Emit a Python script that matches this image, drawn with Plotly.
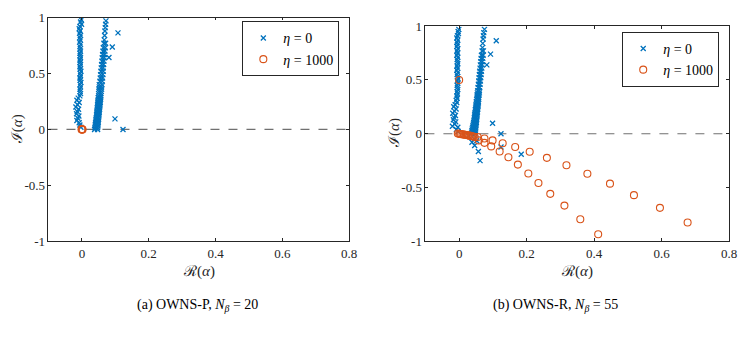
import plotly.graph_objects as go

# ---------------- data ----------------
# Panel (a) OWNS-P, eta = 0 : left branch
a_blue_left_x = [-0.002, -0.004, -0.001, -0.006, -0.008, -0.005, -0.007, -0.004, -0.006, -0.005,
                 -0.007, -0.004, -0.006, -0.005, -0.004, -0.006, -0.005, -0.004, -0.006, -0.005,
                 -0.004, -0.006, -0.005, -0.003, -0.005, -0.004, -0.006, -0.005, -0.003, -0.005,
                 -0.004, -0.006, -0.005, -0.004, -0.006, -0.011, -0.015, -0.008, -0.013, -0.018,
                 -0.010, -0.014, -0.016, -0.009, -0.012, -0.015, -0.008, -0.006, -0.003]
a_blue_left_y = [0.98, 0.96, 0.94, 0.92, 0.90, 0.88, 0.86, 0.84, 0.82, 0.80,
                 0.78, 0.76, 0.74, 0.72, 0.70, 0.68, 0.66, 0.64, 0.62, 0.60,
                 0.58, 0.56, 0.54, 0.52, 0.50, 0.48, 0.46, 0.44, 0.42, 0.40,
                 0.38, 0.36, 0.34, 0.32, 0.30, 0.28, 0.26, 0.24, 0.22, 0.20,
                 0.18, 0.16, 0.14, 0.12, 0.10, 0.08, 0.06, 0.04, 0.02]
# right branch
a_blue_right_x = [0.038, 0.047, 0.039, 0.047, 0.040, 0.048, 0.040, 0.048, 0.041, 0.049,
                  0.042, 0.049, 0.042, 0.050, 0.043, 0.050, 0.044, 0.051, 0.044, 0.051,
                  0.045, 0.052, 0.045, 0.052, 0.046, 0.053, 0.046, 0.053, 0.047, 0.054,
                  0.047, 0.054, 0.048, 0.055, 0.048, 0.055, 0.049, 0.056, 0.049, 0.056,
                  0.050, 0.057, 0.050, 0.057, 0.051, 0.058, 0.051, 0.059, 0.052, 0.059,
                  0.052, 0.060, 0.054, 0.061, 0.055, 0.062, 0.056, 0.063, 0.057, 0.064,
                  0.058, 0.064, 0.059, 0.065, 0.060, 0.066, 0.061, 0.067, 0.062, 0.068,
                  0.063, 0.069, 0.064, 0.070, 0.066, 0.071, 0.067, 0.068, 0.069, 0.070,
                  0.071, 0.072,
                  0.108, 0.091, 0.081, 0.099, 0.123]
a_blue_right_y = [0.000, 0.000, 0.015, 0.015, 0.030, 0.030, 0.045, 0.045, 0.060, 0.060,
                  0.075, 0.075, 0.090, 0.090, 0.105, 0.105, 0.120, 0.120, 0.135, 0.135,
                  0.150, 0.150, 0.165, 0.165, 0.180, 0.180, 0.195, 0.195, 0.210, 0.210,
                  0.225, 0.225, 0.240, 0.240, 0.255, 0.255, 0.270, 0.270, 0.285, 0.285,
                  0.300, 0.300, 0.320, 0.320, 0.340, 0.340, 0.360, 0.360, 0.380, 0.380,
                  0.400, 0.400, 0.430, 0.430, 0.460, 0.460, 0.490, 0.490, 0.520, 0.520,
                  0.550, 0.550, 0.580, 0.580, 0.610, 0.610, 0.640, 0.640, 0.670, 0.670,
                  0.700, 0.700, 0.730, 0.730, 0.770, 0.770, 0.800, 0.840, 0.880, 0.910,
                  0.940, 0.970,
                  0.863, 0.737, 0.643, 0.094, 0.000]
# Panel (a), eta = 1000
a_orange_x = [0.000, 0.001, -0.001, 0.002, 0.0005]
a_orange_y = [0.000, 0.000, 0.000, -0.001, 0.001]

# Panel (b) OWNS-R, eta = 0 : left branch
b_blue_left_x = [-0.001, -0.003, -0.002, -0.005, -0.007, -0.004, -0.006, -0.005, -0.007, -0.004,
                 -0.006, -0.005, -0.007, -0.004, -0.006, -0.005, -0.004, -0.006, -0.005, -0.007,
                 -0.004, -0.006, -0.005, -0.003, -0.005, -0.004, -0.006, -0.005, -0.004, -0.006,
                 -0.005, -0.007, -0.006, -0.009, -0.007, -0.012, -0.016, -0.009, -0.014, -0.019,
                 -0.011, -0.015, -0.017, -0.010, -0.013, -0.020, -0.004, -0.008, -0.003]
b_blue_left_y = [0.97, 0.95, 0.93, 0.91, 0.89, 0.87, 0.85, 0.83, 0.81, 0.79,
                 0.77, 0.75, 0.73, 0.71, 0.69, 0.67, 0.65, 0.63, 0.61, 0.59,
                 0.57, 0.55, 0.53, 0.51, 0.49, 0.47, 0.45, 0.43, 0.41, 0.39,
                 0.37, 0.35, 0.33, 0.31, 0.29, 0.27, 0.25, 0.23, 0.21, 0.19,
                 0.17, 0.15, 0.13, 0.11, 0.09, 0.07, 0.06, 0.04, 0.02]
# right branch and scattered points
b_blue_right_x = [0.036, 0.047, 0.037, 0.048, 0.038, 0.048, 0.039, 0.049, 0.040, 0.049,
                  0.041, 0.050, 0.042, 0.050, 0.043, 0.051, 0.044, 0.051, 0.045, 0.052,
                  0.045, 0.052, 0.046, 0.053, 0.046, 0.053, 0.047, 0.054, 0.048, 0.054,
                  0.048, 0.055, 0.049, 0.055, 0.050, 0.056, 0.050, 0.056, 0.051, 0.057,
                  0.051, 0.057, 0.052, 0.058, 0.053, 0.058, 0.053, 0.059, 0.054, 0.060,
                  0.055, 0.060, 0.056, 0.061, 0.057, 0.062, 0.058, 0.063, 0.059, 0.064,
                  0.060, 0.065, 0.061, 0.066, 0.062, 0.067, 0.063, 0.068, 0.064, 0.069,
                  0.065, 0.070, 0.066, 0.071, 0.068, 0.072, 0.069, 0.070, 0.071, 0.072,
                  0.073, 0.075,
                  0.110, 0.093, 0.082, 0.099, 0.124,
                  0.028, 0.045, 0.038, 0.046, 0.057, 0.062, 0.124, 0.184, 0.052]
b_blue_right_y = [0.000, 0.000, 0.015, 0.015, 0.030, 0.030, 0.045, 0.045, 0.060, 0.060,
                  0.075, 0.075, 0.090, 0.090, 0.105, 0.105, 0.120, 0.120, 0.135, 0.135,
                  0.150, 0.150, 0.165, 0.165, 0.180, 0.180, 0.195, 0.195, 0.210, 0.210,
                  0.225, 0.225, 0.240, 0.240, 0.255, 0.255, 0.270, 0.270, 0.285, 0.285,
                  0.300, 0.300, 0.320, 0.320, 0.340, 0.340, 0.360, 0.360, 0.380, 0.380,
                  0.400, 0.400, 0.430, 0.430, 0.460, 0.460, 0.490, 0.490, 0.520, 0.520,
                  0.550, 0.550, 0.580, 0.580, 0.610, 0.610, 0.640, 0.640, 0.670, 0.670,
                  0.700, 0.700, 0.730, 0.730, 0.770, 0.770, 0.800, 0.840, 0.880, 0.910,
                  0.940, 0.970,
                  0.864, 0.740, 0.640, 0.098, 0.000,
                  -0.020, -0.050, -0.080, -0.110, -0.165, -0.250, -0.124, -0.190, -0.065]
# Panel (b), eta = 1000
b_orange_x = [-0.004, 0.000, 0.003, 0.006, 0.010, 0.014, 0.018, 0.022, 0.026, 0.030,
              0.034, 0.038, 0.042, 0.046, 0.000,
              0.055, 0.075, 0.099, 0.129, 0.166, 0.209, 0.260, 0.318, 0.380, 0.447,
              0.518, 0.595, 0.677,
              0.058, 0.075, 0.095, 0.120, 0.146, 0.174, 0.205, 0.235, 0.270, 0.312,
              0.359, 0.412]
b_orange_y = [0.002, 0.000, -0.002, -0.004, -0.006, -0.008, -0.010, -0.012, -0.015, -0.018,
              -0.020, -0.023, -0.026, -0.030, 0.500,
              -0.030, -0.044, -0.062, -0.089, -0.124, -0.168, -0.224, -0.293, -0.372, -0.464,
              -0.571, -0.689, -0.825,
              -0.062, -0.085, -0.118, -0.165, -0.219, -0.287, -0.369, -0.458, -0.559, -0.668,
              -0.795, -0.934]

x_ticks = [0, 0.2, 0.4, 0.6, 0.8]
x_tick_labels = ["0", "0.2", "0.4", "0.6", "0.8"]
y_ticks = [-1, -0.5, 0, 0.5, 1]
y_tick_labels = ["-1", "-0.5", "0", "0.5", "1"]
captions = ["(a) OWNS-P, <i>N</i><sub><i>β</i></sub> = 20", "(b) OWNS-R, <i>N</i><sub><i>β</i></sub> = 55"]

# ---------------- figure ----------------
W, H = 748, 344
BLUE = "#0072BD"
ORANGE = "#D95319"
FONT = "Liberation Serif"

def px_x(p):
    return p / W

def px_y(p):
    return 1 - p / H

fig = go.Figure()

blue_marker = dict(symbol="x-thin", size=5, color=BLUE, line=dict(width=1.3, color=BLUE))
orange_marker = dict(symbol="circle-open", size=7, color=ORANGE, line=dict(width=1.1, color=ORANGE))

fig.add_trace(go.Scatter(x=a_blue_left_x + a_blue_right_x, y=a_blue_left_y + a_blue_right_y,
                         mode="markers", marker=blue_marker, name="<i>η</i> = 0",
                         xaxis="x", yaxis="y", legend="legend"))
fig.add_trace(go.Scatter(x=a_orange_x, y=a_orange_y, mode="markers", marker=orange_marker,
                         name="<i>η</i> = 1000", xaxis="x", yaxis="y", legend="legend"))
fig.add_trace(go.Scatter(x=b_blue_left_x + b_blue_right_x, y=b_blue_left_y + b_blue_right_y,
                         mode="markers", marker=blue_marker, name="<i>η</i> = 0",
                         xaxis="x2", yaxis="y2", legend="legend2"))
fig.add_trace(go.Scatter(x=b_orange_x, y=b_orange_y, mode="markers", marker=orange_marker,
                         name="<i>η</i> = 1000", xaxis="x2", yaxis="y2", legend="legend2"))

axis_common = dict(showgrid=False, zeroline=False, showline=True, linecolor="#262626",
                   linewidth=0.8, mirror="ticks", ticks="inside", ticklen=3, tickwidth=0.8,
                   tickcolor="#262626", tickfont=dict(family=FONT, size=13, color="#262626"))

legend_common = dict(xanchor="right", yanchor="top", bgcolor="white", bordercolor="#262626",
                     borderwidth=1, font=dict(family=FONT, size=14, color="black"),
                     tracegroupgap=0, itemsizing="trace", itemwidth=30)

fig.update_layout(
    width=W, height=H, margin=dict(l=0, r=0, t=0, b=0),
    paper_bgcolor="white", plot_bgcolor="white",
    font=dict(family=FONT, size=13, color="#262626"),
    xaxis=dict(domain=[px_x(49), px_x(353)], range=[-0.1, 0.8], anchor="y",
               tickvals=x_ticks, ticktext=x_tick_labels, **axis_common),
    yaxis=dict(domain=[px_y(245), px_y(11)], range=[-1, 1], anchor="x",
               tickvals=y_ticks, ticktext=y_tick_labels, **axis_common),
    xaxis2=dict(domain=[px_x(430), px_x(737)], range=[-0.1, 0.8], anchor="y2",
                tickvals=x_ticks, ticktext=x_tick_labels, **axis_common),
    yaxis2=dict(domain=[px_y(245), px_y(20)], range=[-1, 1], anchor="x2",
                tickvals=y_ticks, ticktext=y_tick_labels, **axis_common),
    legend=dict(x=px_x(343), y=px_y(15), **legend_common),
    legend2=dict(x=px_x(727), y=px_y(26), **legend_common),
    showlegend=True,
)

# dashed zero lines
for xr, yr in (("x domain", "y"), ("x2 domain", "y2")):
    fig.add_shape(type="line", xref=xr, yref=yr, x0=0, x1=1, y0=0, y1=0,
                  line=dict(color="#707070", width=1.1, dash="dash"), layer="below")

# axis titles and captions
ann = []
for cx in (px_x((49 + 353) / 2), px_x((430 + 737) / 2)):
    ann.append(dict(x=cx, y=px_y(266), xref="paper", yref="paper", text="ℛ(<i>α</i>)",
                    showarrow=False, font=dict(family=FONT, size=15, color="#262626"),
                    xanchor="center", yanchor="top"))
for cx, cy in ((px_x(18), px_y(128)), (px_x(399), px_y(132))):
    ann.append(dict(x=cx, y=cy, xref="paper", yref="paper", text="ℐ(<i>α</i>)",
                    showarrow=False, textangle=-90, font=dict(family=FONT, size=15, color="#262626"),
                    xanchor="center", yanchor="middle"))
for cx, txt in ((px_x(200), captions[0]), (px_x(561), captions[1])):
    ann.append(dict(x=cx, y=px_y(312), xref="paper", yref="paper", text=txt,
                    showarrow=False, font=dict(family=FONT, size=14, color="black"),
                    xanchor="center", yanchor="middle"))
fig.update_layout(annotations=ann)

fig.write_html("out.html")
